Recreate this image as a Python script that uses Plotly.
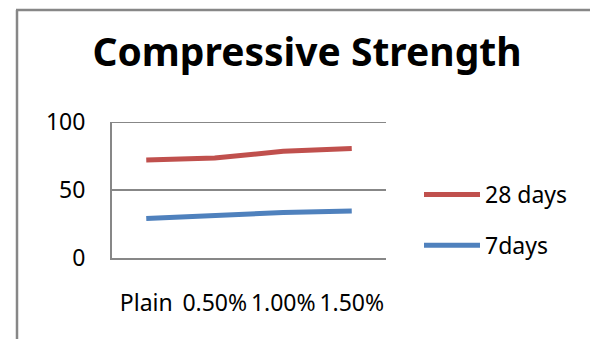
import plotly.graph_objects as go

categories = ["Plain", "0.50%", "1.00%", "1.50%"]
days28 = [72, 73.5, 78.5, 80.5]
days7 = [29, 31, 33.5, 34.5]
series_names = ["28 days", "7days"]

W, H = 590, 339
L, R, T, B = 112, 204, 122, 81
pw, ph = W - L - R, H - T - B

def px_x(p):
    return (p - L) / pw

def px_y(p):
    return (H - B - p) / ph

FONT = "Noto Sans"
grid = "#878787"

fig = go.Figure()
fig.add_trace(go.Scatter(x=categories, y=days28, mode="lines", name=series_names[0],
                         line=dict(color="#C0504D", width=5), legendgroup="a"))
fig.add_trace(go.Scatter(x=categories, y=days7, mode="lines", name=series_names[1],
                         line=dict(color="#4F81BD", width=5), legendgroup="b"))

fig.update_layout(
    width=W, height=H,
    margin=dict(l=L, r=R, t=T, b=B, autoexpand=False),
    paper_bgcolor="white", plot_bgcolor="white",
    font=dict(family=FONT, size=23, color="black"),
    title=dict(text="<b>Compressive Strength</b>", font=dict(family=FONT, size=39, color="black"),
               x=307 / W, xanchor="center", xref="container",
               y=1 - 52 / H, yanchor="middle", yref="container"),
    showlegend=True,
    legend=dict(x=px_x(419), y=px_y(173), xanchor="left", yanchor="top",
                font=dict(family=FONT, size=23), tracegroupgap=18, itemwidth=56,
                bgcolor="rgba(0,0,0,0)"),
    xaxis=dict(type="category", range=[-0.5, 3.5], showgrid=False, showline=True,
               linecolor=grid, linewidth=2, ticks="", ticklabelstandoff=23,
               tickfont=dict(family=FONT, size=23)),
    yaxis=dict(range=[0, 100], tickvals=[0, 50, 100], showgrid=True, gridcolor=grid,
               gridwidth=2, showline=True, linecolor=grid, linewidth=2, ticks="",
               ticklabelstandoff=20, zeroline=False, tickfont=dict(family=FONT, size=23)),
    shapes=[
        dict(type="line", xref="paper", yref="y", x0=0, x1=1, y0=100, y1=100,
             line=dict(color=grid, width=2)),
        dict(type="line", xref="paper", yref="paper", x0=px_x(17), x1=px_x(17),
             y0=px_y(10), y1=px_y(345), line=dict(color=grid, width=2.5)),
        dict(type="line", xref="paper", yref="paper", x0=px_x(16), x1=px_x(600),
             y0=px_y(10), y1=px_y(10), line=dict(color=grid, width=2.5)),
    ],
)

fig.write_html("out.html")
